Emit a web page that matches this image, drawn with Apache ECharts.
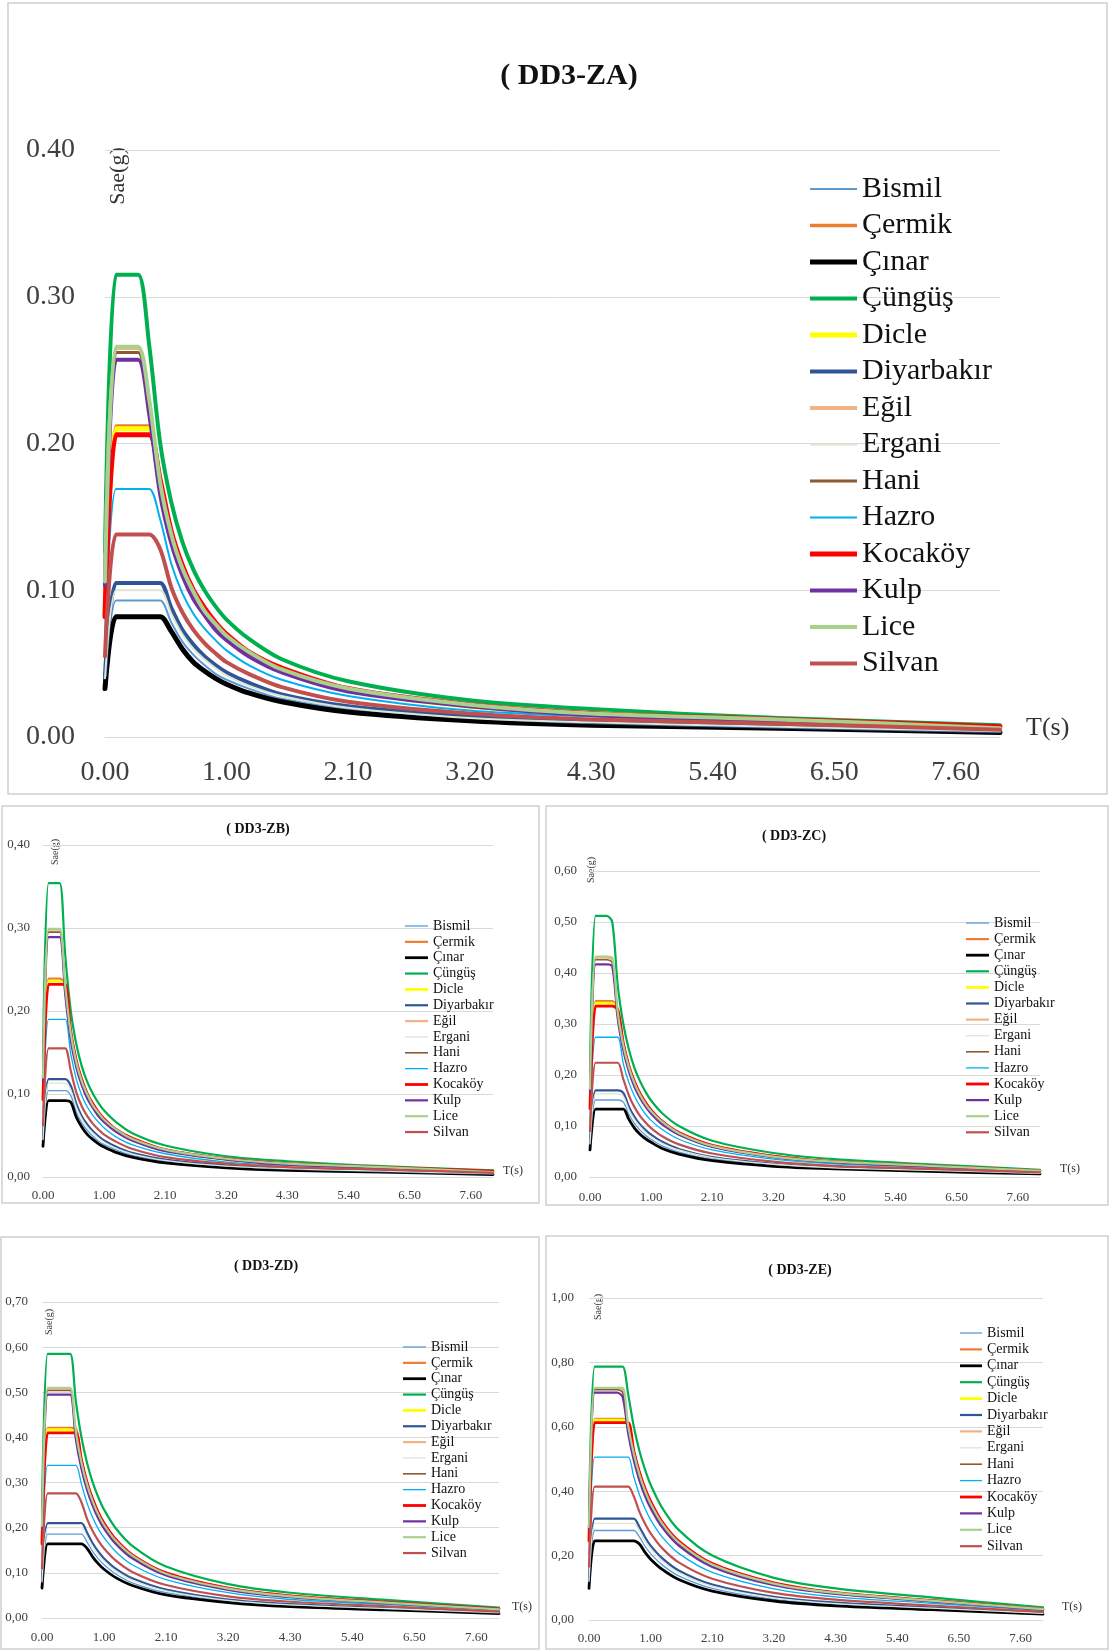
<!DOCTYPE html>
<html><head><meta charset="utf-8">
<script src="https://cdn.jsdelivr.net/npm/echarts@6/dist/echarts.min.js"></script>
<style>html,body{margin:0;padding:0;background:#fff}#c{width:1110px;height:1650px}</style>
</head><body><div id="c"></div><script>
// ---- category axis (T in s) ----
const categories = ["0.00","0.05","0.10","0.20","0.30","0.40","0.50","0.60","0.70","0.80","0.90","1.00",
"1.10","1.20","1.30","1.40","1.50","1.60","1.70","1.80","1.90","2.00","2.10","2.20","2.30","2.40","2.50","2.60","2.70","2.80","2.90","3.00",
"3.10","3.20","3.30","3.40","3.50","3.60","3.70","3.80","3.90","4.00","4.10","4.20","4.30","4.40","4.50","4.60","4.70","4.80","4.90","5.00",
"5.10","5.20","5.30","5.40","5.50","5.60","5.70","5.80","5.90","6.00","6.10","6.20","6.30","6.40","6.50","6.60","6.70","6.80","6.90","7.00",
"7.10","7.20","7.30","7.40","7.50","7.60","7.70","7.80","7.90","8.00"];
const sampleT = ["0.00","0.05","0.10","0.20","0.30","0.40","0.50","0.60","0.70","0.80","0.90","1.00","1.20","1.50","2.10","3.20","4.30","6.00","8.00"];
const sites = ["Bismil","Çermik","Çınar","Çüngüş","Dicle","Diyarbakır","Eğil","Ergani","Hani","Hazro","Kocaköy","Kulp","Lice","Silvan"];
const panelTitles = ["( DD3-ZA)","( DD3-ZB)","( DD3-ZC)","( DD3-ZD)","( DD3-ZE)"];
const yMaxes = [0.4, 0.4, 0.6, 0.7, 1.0];
const ySteps = [0.1, 0.1, 0.1, 0.1, 0.2];

// ---- Sae(g) values, one row per site (order as in `sites`) ----
const saeZA = [
[.037,.093,.093,.093,.093,.093,.078,.065,.056,.049,.043,.039,.033,.026,.019,.012,.009,.007,.004],
[.085,.212,.212,.212,.212,.175,.140,.117,.100,.088,.078,.070,.058,.047,.033,.022,.016,.012,.007],
[.033,.082,.082,.082,.082,.082,.072,.060,.051,.045,.040,.036,.030,.024,.017,.011,.008,.006,.003],
[.126,.315,.315,.315,.267,.200,.160,.133,.114,.100,.089,.080,.067,.053,.038,.025,.019,.013,.008],
[.084,.210,.210,.210,.210,.170,.136,.113,.097,.085,.076,.068,.057,.045,.032,.021,.016,.011,.006],
[.042,.105,.105,.105,.105,.105,.088,.073,.063,.055,.049,.044,.037,.029,.021,.014,.010,.007,.004],
[.106,.265,.265,.265,.227,.170,.136,.113,.097,.085,.076,.068,.057,.045,.032,.021,.016,.011,.006],
[.040,.100,.100,.100,.100,.100,.084,.070,.060,.053,.047,.042,.035,.028,.020,.013,.010,.007,.004],
[.105,.262,.262,.262,.223,.168,.134,.112,.096,.084,.074,.067,.056,.045,.032,.021,.016,.011,.006],
[.068,.169,.169,.169,.169,.148,.118,.098,.084,.074,.066,.059,.049,.039,.028,.018,.014,.010,.006],
[.082,.206,.206,.206,.206,.175,.140,.117,.100,.088,.078,.070,.058,.047,.033,.022,.016,.012,.007],
[.103,.257,.257,.257,.220,.165,.132,.110,.094,.083,.073,.066,.055,.044,.031,.021,.015,.011,.006],
[.106,.266,.266,.266,.230,.173,.138,.115,.099,.086,.077,.069,.058,.046,.033,.022,.016,.012,.006],
[.055,.138,.138,.138,.138,.128,.102,.085,.073,.064,.057,.051,.043,.034,.024,.016,.012,.009,.005]
];
const saeZB = [
[.042,.104,.104,.104,.104,.098,.078,.065,.056,.049,.043,.039,.033,.026,.019,.012,.009,.007,.004],
[.096,.239,.239,.239,.233,.175,.140,.117,.100,.088,.078,.070,.058,.047,.033,.022,.016,.012,.007],
[.037,.092,.092,.092,.092,.090,.072,.060,.051,.045,.040,.036,.030,.024,.017,.011,.008,.006,.003],
[.142,.354,.354,.354,.267,.200,.160,.133,.114,.100,.089,.080,.067,.053,.038,.025,.019,.013,.008],
[.094,.236,.236,.236,.227,.170,.136,.113,.097,.085,.076,.068,.057,.045,.032,.021,.016,.011,.006],
[.047,.118,.118,.118,.118,.110,.088,.073,.063,.055,.049,.044,.037,.029,.021,.014,.010,.007,.004],
[.119,.298,.298,.298,.227,.170,.136,.113,.097,.085,.076,.068,.057,.045,.032,.021,.016,.011,.006],
[.045,.113,.113,.113,.113,.105,.084,.070,.060,.053,.047,.042,.035,.028,.020,.013,.010,.007,.004],
[.118,.295,.295,.295,.223,.168,.134,.112,.096,.084,.074,.067,.056,.045,.032,.021,.016,.011,.006],
[.076,.190,.190,.190,.190,.148,.118,.098,.084,.074,.066,.059,.049,.039,.028,.018,.014,.010,.006],
[.093,.232,.232,.232,.232,.175,.140,.117,.100,.088,.078,.070,.058,.047,.033,.022,.016,.012,.007],
[.116,.289,.289,.289,.220,.165,.132,.110,.094,.083,.073,.066,.055,.044,.031,.021,.015,.011,.006],
[.120,.299,.299,.299,.230,.173,.138,.115,.099,.086,.077,.069,.058,.046,.033,.022,.016,.012,.006],
[.062,.155,.155,.155,.155,.128,.102,.085,.073,.064,.057,.051,.043,.034,.024,.016,.012,.009,.005]
];
const saeZC = [
[.060,.151,.151,.151,.151,.151,.147,.123,.105,.092,.082,.074,.061,.049,.035,.023,.017,.012,.007],
[.138,.345,.345,.345,.345,.328,.262,.218,.187,.164,.146,.131,.109,.087,.062,.041,.030,.022,.012],
[.053,.133,.133,.133,.133,.133,.133,.113,.096,.084,.075,.068,.056,.045,.032,.021,.016,.011,.006],
[.205,.512,.512,.512,.500,.375,.300,.250,.214,.188,.167,.150,.125,.100,.071,.047,.035,.025,.014],
[.136,.341,.341,.341,.341,.319,.255,.213,.182,.159,.142,.128,.106,.085,.061,.040,.030,.021,.012],
[.068,.170,.170,.170,.170,.170,.165,.138,.118,.103,.092,.083,.069,.055,.039,.026,.019,.014,.008],
[.172,.430,.430,.430,.425,.319,.255,.213,.182,.159,.142,.128,.106,.085,.061,.040,.030,.021,.012],
[.065,.163,.163,.163,.163,.163,.158,.132,.113,.099,.088,.079,.066,.053,.038,.025,.018,.013,.007],
[.170,.426,.426,.426,.420,.315,.252,.210,.180,.158,.140,.126,.105,.084,.060,.039,.029,.021,.012],
[.110,.274,.274,.274,.274,.274,.222,.185,.159,.139,.123,.111,.093,.074,.053,.035,.026,.019,.010],
[.134,.335,.335,.335,.335,.328,.262,.218,.187,.164,.146,.131,.109,.087,.062,.041,.030,.022,.012],
[.167,.417,.417,.417,.413,.310,.248,.207,.177,.155,.138,.124,.103,.083,.059,.039,.029,.021,.012],
[.173,.432,.432,.432,.430,.323,.258,.215,.184,.161,.143,.129,.108,.086,.061,.040,.030,.022,.012],
[.090,.224,.224,.224,.224,.224,.192,.160,.137,.120,.107,.096,.080,.064,.046,.030,.022,.016,.009]
];
const saeZD = [
[.074,.186,.186,.186,.186,.186,.186,.186,.168,.147,.131,.118,.098,.078,.056,.037,.027,.020,.011],
[.168,.421,.421,.421,.421,.421,.420,.350,.300,.263,.233,.210,.175,.140,.100,.066,.049,.035,.020],
[.066,.164,.164,.164,.164,.164,.164,.164,.154,.135,.120,.108,.090,.072,.051,.034,.025,.018,.010],
[.234,.585,.585,.585,.585,.585,.480,.400,.343,.300,.267,.240,.200,.160,.114,.075,.056,.040,.023],
[.167,.417,.417,.417,.417,.417,.408,.340,.291,.255,.227,.204,.170,.136,.097,.064,.047,.034,.019],
[.084,.210,.210,.210,.210,.210,.210,.210,.189,.165,.147,.132,.110,.088,.063,.041,.031,.022,.012],
[.203,.508,.508,.508,.508,.508,.408,.340,.291,.255,.227,.204,.170,.136,.097,.064,.047,.034,.019],
[.080,.200,.200,.200,.200,.200,.200,.200,.180,.158,.140,.126,.105,.084,.060,.039,.029,.021,.012],
[.202,.504,.504,.504,.504,.504,.403,.336,.288,.252,.224,.202,.168,.134,.096,.063,.047,.034,.019],
[.135,.338,.338,.338,.338,.338,.338,.296,.254,.222,.197,.178,.148,.118,.085,.056,.041,.030,.017],
[.164,.410,.410,.410,.410,.410,.410,.350,.300,.263,.233,.210,.175,.140,.100,.066,.049,.035,.020],
[.198,.495,.495,.495,.495,.495,.396,.330,.283,.248,.220,.198,.165,.132,.094,.062,.046,.033,.019],
[.204,.510,.510,.510,.510,.510,.413,.344,.295,.258,.229,.206,.172,.138,.098,.065,.048,.034,.019],
[.110,.276,.276,.276,.276,.276,.276,.256,.219,.192,.171,.154,.128,.102,.073,.048,.036,.026,.014]
];
const saeZE = [
[.111,.278,.278,.278,.278,.278,.278,.278,.278,.258,.229,.206,.172,.137,.098,.064,.048,.034,.019],
[.250,.625,.625,.625,.625,.625,.625,.613,.525,.459,.408,.368,.306,.245,.175,.115,.085,.061,.034],
[.098,.246,.246,.246,.246,.246,.246,.246,.246,.236,.210,.189,.158,.126,.090,.059,.044,.032,.018],
[.315,.787,.787,.787,.787,.787,.787,.700,.600,.525,.467,.420,.350,.280,.200,.131,.098,.070,.039],
[.248,.621,.621,.621,.621,.621,.621,.595,.510,.446,.397,.357,.298,.238,.170,.112,.083,.060,.033],
[.126,.315,.315,.315,.315,.315,.315,.315,.315,.289,.257,.231,.193,.154,.110,.072,.054,.039,.022],
[.288,.719,.719,.719,.719,.719,.714,.595,.510,.446,.397,.357,.298,.238,.170,.112,.083,.060,.033],
[.120,.300,.300,.300,.300,.300,.300,.300,.300,.276,.245,.221,.184,.147,.105,.069,.051,.037,.021],
[.286,.715,.715,.715,.715,.715,.706,.588,.504,.441,.392,.353,.294,.235,.168,.110,.082,.059,.033],
[.202,.506,.506,.506,.506,.506,.506,.506,.444,.389,.346,.311,.259,.207,.148,.097,.072,.052,.029],
[.245,.613,.613,.613,.613,.613,.613,.613,.525,.459,.408,.368,.306,.245,.175,.115,.085,.061,.034],
[.282,.706,.706,.706,.706,.706,.693,.578,.495,.433,.385,.347,.289,.231,.165,.108,.081,.058,.032],
[.288,.721,.721,.721,.721,.721,.721,.602,.516,.451,.401,.361,.301,.241,.172,.113,.084,.060,.034],
[.166,.414,.414,.414,.414,.414,.414,.414,.384,.336,.299,.269,.224,.179,.128,.084,.063,.045,.025]
];
const panelData = [saeZA, saeZB, saeZC, saeZD, saeZE];

// ---- styles ----
const colors = ["#5B9BD5","#ED7D31","#000000","#00B050","#FFFF00","#2F5597","#F4B183","#DCE6D2","#8C5A32","#00B0F0","#FF0000","#7030A0","#A9D18E","#C0504D"];
const widthsBig = [2,3.5,5,4,5,4,4,2,3,2,5,4,4,4];
const widthsSmall = [1.3,2.2,2.8,2.2,2.8,2.2,2.2,1.3,1.6,1.3,2.8,2.2,2.2,2.2];
const FONT = '"Liberation Serif","Times New Roman",serif';
const layout = [
  {grid:{left:105,top:150,width:895,height:587}, comma:false, lab:28, xm:22, ym:30,
   lg:{left:810,top:174,w:47,h:14,fs:30,pitch:36.5}, title:{x:569,y:76,fs:30}, sae:{x:118,y:176,fs:22}, ts:{x:1026,y:728,fs:26},
   box:[8,3,1099,791], wid:widthsBig},
  {grid:{left:43,top:845,width:450,height:332}, comma:true, lab:13, xm:12, ym:13,
   lg:{left:405,top:919,w:23,h:12,fs:14,pitch:15.85}, title:{x:258,y:829,fs:14}, sae:{x:55,y:852,fs:10}, ts:{x:503,y:1171,fs:12},
   box:[2,806,537,397], wid:widthsSmall},
  {grid:{left:590,top:871,width:450,height:306}, comma:true, lab:13, xm:14, ym:13,
   lg:{left:966,top:916,w:23,h:12,fs:14,pitch:16.1}, title:{x:794,y:836,fs:14}, sae:{x:591,y:870,fs:10}, ts:{x:1060,y:1169,fs:12},
   box:[546,806,562,399], wid:widthsSmall},
  {grid:{left:42,top:1302,width:457,height:316}, comma:true, lab:13, xm:13, ym:14,
   lg:{left:403,top:1340,w:23,h:12,fs:14,pitch:15.85}, title:{x:266,y:1266,fs:14}, sae:{x:49,y:1322,fs:10}, ts:{x:512,y:1607,fs:12},
   box:[1,1237,538,412], wid:widthsSmall},
  {grid:{left:589,top:1298,width:454,height:322}, comma:true, lab:13, xm:12, ym:15,
   lg:{left:960,top:1326,w:22,h:12,fs:14,pitch:16.4}, title:{x:800,y:1270,fs:14}, sae:{x:598,y:1307,fs:10}, ts:{x:1062,y:1607,fs:12},
   box:[546,1236,562,413], wid:widthsSmall}
];

const grids=[], xAxes=[], yAxes=[], series=[], legends=[], graphics=[];
layout.forEach((L, p) => {
  grids.push(Object.assign({containLabel:false}, L.grid));
  xAxes.push({type:'category', gridIndex:p, data:categories, boundaryGap:false,
    axisTick:{show:false}, axisLine:{lineStyle:{color:'#D9D9D9'}},
    axisLabel:{interval:10, fontFamily:FONT, fontSize:L.lab, color:'#404040', margin:L.xm},
    splitLine:{show:false}});
  yAxes.push({type:'value', gridIndex:p, min:0, max:yMaxes[p], interval:ySteps[p],
    axisLine:{show:false}, axisTick:{show:false},
    axisLabel:{fontFamily:FONT, fontSize:L.lab, color:'#404040', margin:L.ym,
      formatter: v => { const s = v.toFixed(2); return L.comma ? s.replace('.', ',') : s; }},
    splitLine:{lineStyle:{color:'#D9D9D9', width:1}}});
  panelData[p].forEach((vals, i) => {
    series.push({type:'line', name:sites[i], xAxisIndex:p, yAxisIndex:p,
      data: sampleT.map((t, k) => [t, vals[k]]),
      symbol:'none', silent:true, animation:false, smooth:0.3,
      itemStyle:{color:colors[i]},
      lineStyle:{color:colors[i], width:L.wid[i], cap:'round', join:'round'}});
  });
  legends.push({orient:'vertical', left:L.lg.left, top:L.lg.top, padding:0,
    itemWidth:L.lg.w, itemHeight:L.lg.h, itemGap:Math.max(0, L.lg.pitch - Math.max(L.lg.fs, L.lg.h)), selectedMode:false,
    textStyle:{fontFamily:FONT, fontSize:L.lg.fs, lineHeight:Math.max(L.lg.fs, L.lg.h), color:'#111'},
    data: sites.map((n, i) => ({name:n, icon:'path://M0,0H' + L.lg.w + 'V' + L.wid[i] + 'H0Z',
      itemStyle:{color:colors[i]}}))});
  graphics.push({type:'rect', silent:true, z:-10, shape:{x:L.box[0], y:L.box[1], width:L.box[2], height:L.box[3]},
    style:{fill:'none', stroke:'#CFCFCF', lineWidth:1.5}});
  graphics.push({type:'text', x:L.title.x, y:L.title.y, silent:true,
    style:{text:panelTitles[p], fontFamily:FONT, fontWeight:'bold', fontSize:L.title.fs, fill:'#111', align:'center', verticalAlign:'middle'}});
  graphics.push({type:'text', x:L.sae.x, y:L.sae.y, rotation:Math.PI/2, silent:true,
    style:{text:'Sae(g)', fontFamily:FONT, fontSize:L.sae.fs, fill:'#333', align:'center', verticalAlign:'middle'}});
  graphics.push({type:'text', x:L.ts.x, y:L.ts.y, silent:true,
    style:{text:'T(s)', fontFamily:FONT, fontSize:L.ts.fs, fill:'#333', align:'left', verticalAlign:'middle'}});
});

const chart = echarts.init(document.getElementById('c'), null, {renderer:'canvas'});
chart.setOption({animation:false, backgroundColor:'#fff', grid:grids, xAxis:xAxes, yAxis:yAxes,
  series:series, legend:legends, graphic:graphics});
</script></body></html>
